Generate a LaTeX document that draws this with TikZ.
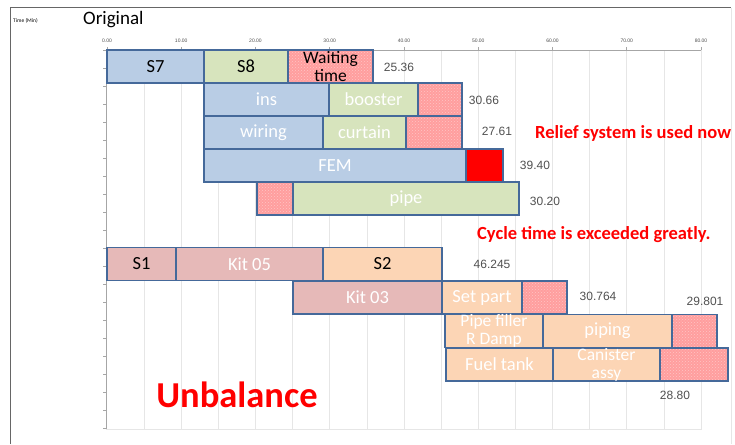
\documentclass[tikz,border=0pt]{standalone}
\usepackage{fontspec}
\setmainfont{Carlito}
\newfontfamily\numfont{Liberation Sans}
\usetikzlibrary{patterns}
\definecolor{boxline}{HTML}{45699A}
\definecolor{bluefill}{HTML}{B9CDE5}
\definecolor{greenfill}{HTML}{D7E4BD}
\definecolor{kitfill}{HTML}{E6B9B8}
\definecolor{peachfill}{HTML}{FCD5B5}
\definecolor{waitfill}{HTML}{FF9E9E}
\definecolor{waitdots}{HTML}{FFC4C4}
\definecolor{gridgray}{HTML}{E6E6E6}
\definecolor{axisgray}{HTML}{A6A6A6}
\definecolor{numgray}{HTML}{505050}
\tikzset{
  every picture/.style={font={\fontsize{18.5}{16}\selectfont}, >=stealth}}

\begin{document}
\begin{tikzpicture}[x=1pt, y=-1pt,
    task/.style={
      draw=boxline, line width=1.4pt,
      minimum height=33pt, inner sep=0pt,
      align=center, text=white},
    twoline/.style={font={\fontsize{17.5}{18}\selectfont}},
    blue/.style={task, fill=bluefill},
    green/.style={task, fill=greenfill},
    kit/.style={task, fill=kitfill},
    peach/.style={task, fill=peachfill},
    wait/.style={task, preaction={fill=waitfill},
      pattern=crosshatch dots, pattern color=waitdots},
    over/.style={task, fill=red},
    total/.style={font={\numfont\fontsize{12}{12}\selectfont}, text=numgray, inner sep=0pt},
    tick/.style={font={\numfont\fontsize{5}{5}\selectfont}, text=black!70, inner sep=0pt},
    note/.style={font={\bfseries\fontsize{18.5}{18.5}\selectfont}, text=red, inner sep=0pt, anchor=west}]

    \useasboundingbox (0,0) rectangle (735,444);
    \draw[black!60, line width=1pt] (10,444) -- (10,8) -- (731,8);
    \draw[gridgray, line width=0.6pt] (731,8) -- (731,444);

    % plot area
    \foreach \k in {1,...,16}
      \draw[gridgray, line width=0.6pt] ({107+37.125*\k},50) -- ({107+37.125*\k},429);
    \draw[gridgray, line width=0.8pt] (106,429) -- (701,429) -- (701,50);
    \draw[axisgray, line width=0.8pt] (106,50) -- (701,50);
    \draw[axisgray, line width=1pt] (106,50) -- (106,429);
    \foreach \k in {0,...,21}
      \draw[axisgray, line width=0.6pt] (103,{50+18*\k}) -- (106,{50+18*\k});
    \foreach \k in {1,...,8} {
      \draw[axisgray, line width=0.6pt] ({107+74.25*\k},47) -- ({107+74.25*\k},50);
      \node[tick] (x\k) at ({107+74.25*\k},41) {\k0.00};
    }
    \draw[axisgray, line width=0.6pt] (107,47) -- (107,50);
    \node[tick] (x0) at (107,41) {0.00};

    \node[anchor=west, inner sep=0pt, font={\fontsize{5.5}{5.5}\selectfont}] (unit) at (13,21) {Time (Min)};
    \node[anchor=west, inner sep=0pt, font={\fontsize{19}{19}\selectfont}] (title) at (83,20) {Original};

    % first line
    \node[blue, minimum width=97pt, text=black] (s7) at (155.5,66.5) {S7};
    \node[green, minimum width=84pt, text=black] (s8) at (246,66.5) {S8};
    \node[wait, twoline, minimum width=85pt, text=black] (w1) at (330.5,66.5) {Waiting\\time};
    \node[total] (t1) at (399,67) {25.36};

    \node[blue, minimum width=125pt] (ins) at (266.5,99.5) {ins};
    \node[green, minimum width=89pt] (booster) at (373.5,99.5) {booster};
    \node[wait, minimum width=44pt] (w2) at (440,99.5) {};
    \node[total] (t2) at (484,100) {30.66};

    \node[blue, minimum width=119pt] (wiring) at (263.5,132.5) {wiring};
    \node[green, minimum width=83pt] (curtain) at (364.5,132.5) {curtain};
    \node[wait, minimum width=56pt] (w3) at (434,132.5) {};
    \node[total] (t3) at (497,131) {27.61};

    \node[blue, minimum width=262pt] (fem) at (335,165.5) {FEM};
    \node[over, minimum width=37pt] (o4) at (484.5,165.5) {};
    \node[total] (t4) at (535,165) {39.40};

    \node[wait, minimum width=36pt] (w5) at (275,198.5) {};
    \node[green, minimum width=226pt] (pipe) at (406,198.5) {pipe};
    \node[total] (t5) at (545,201) {30.20};

    % second line
    \node[kit, minimum width=69pt, text=black] (s1) at (141.5,264) {S1};
    \node[kit, minimum width=147pt] (kit05) at (249.5,264) {Kit 05};
    \node[peach, minimum width=119pt, text=black] (s2) at (382.5,264) {S2};
    \node[total] (t6) at (492,264) {46.245};

    \node[kit, minimum width=149pt] (kit03) at (367.5,297.5) {Kit 03};
    \node[peach, minimum width=80pt] (setpart) at (482,297.5) {Set part};
    \node[wait, minimum width=45pt] (w7) at (544.5,297.5) {};
    \node[total] (t7) at (598,296) {30.764};

    \node[peach, twoline, minimum width=98pt] (filler) at (494,331) {Pipe filler\\R Damp};
    \node[peach, minimum width=129pt] (piping) at (607.5,331) {piping};
    \node[wait, minimum width=45pt] (w8) at (694.5,331) {};
    \node[total] (t8) at (705,301) {29.801};

    \node[peach, minimum width=107pt] (fuel) at (499.5,364.5) {Fuel tank};
    \node[peach, twoline, minimum width=107pt] (canister) at (606.5,364.5) {Canister\\assy};
    \node[wait, minimum width=68pt] (w9) at (694,364.5) {};
    \node[total] (t9) at (675,395) {28.80};

    \node[note] (relief) at (535,133) {Relief system is used now};
    \node[note] (cycle) at (477,235) {Cycle time is exceeded greatly.};
    \node[inner sep=0pt, text=red, font={\bfseries\fontsize{36.5}{36.5}\selectfont}] (unbal) at (237,395) {Unbalance};
  \end{tikzpicture}
\end{document}
